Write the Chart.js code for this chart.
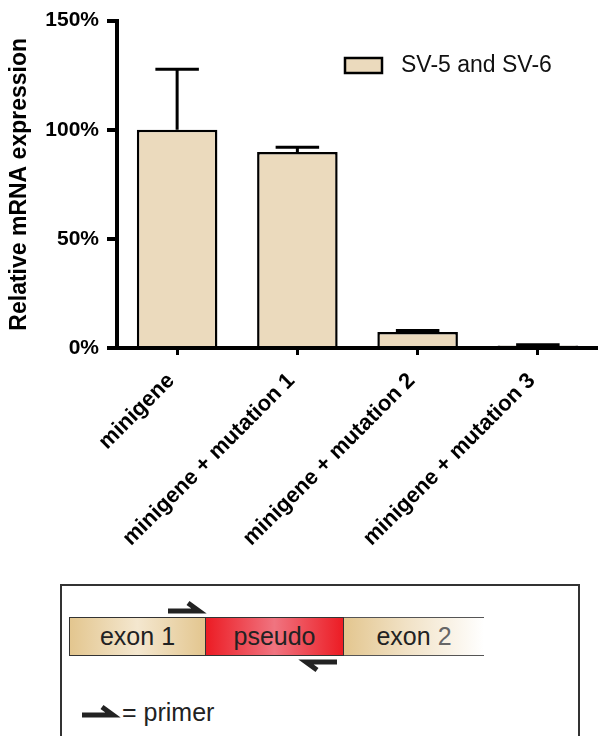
<!DOCTYPE html>
<html>
<head>
<meta charset="utf-8">
<script src="https://cdn.jsdelivr.net/npm/chart.js@4.4.1/dist/chart.umd.min.js"></script>
<style>
  html, body { margin: 0; padding: 0; background: #fff; }
  body { width: 598px; height: 736px; position: relative; overflow: hidden; font-family: 'Liberation Sans', Arial, sans-serif; }
  #wrap { position: absolute; left: 0; top: 0; width: 598px; height: 560px; }
  #diagram { position: absolute; left: 60px; top: 584px; width: 520px; height: 170px; border: 2px solid #333; box-sizing: border-box; }
  .seg { position: absolute; top: 31px; height: 39px; box-sizing: border-box; font-size: 25px; color: #222; text-align: center; line-height: 37px; }
  #ex1 { left: 7px; width: 136px; border: 1px solid #333; border-right: none;
         background: linear-gradient(to right, #e3c68f 0%, #f4e7cf 50%, #e3c68f 100%); }
  #ps { left: 143px; width: 139px; border: 1px solid #333;
        background: linear-gradient(to right, #ec1c24 0%, #f07480 50%, #ec1c24 100%); }
  #ex2 { left: 282px; width: 140px; border-top: 1px solid #555; border-bottom: 1px solid #555;
         background: linear-gradient(to right, #e3c68f 0%, #f1e2c6 45%, #ffffff 100%); }
  #ex2 span.g { color: #666; }
  #legtxt { position: absolute; left: 60px; top: 112px; font-size: 25px; color: #222; }
  svg { position: absolute; left: 0; top: 0; }
</style>
</head>
<body>
<div id="wrap"><canvas id="c" width="598" height="560"></canvas></div>
<div id="diagram">
  <div class="seg" id="ex1">exon 1</div>
  <div class="seg" id="ps">pseudo</div>
  <div class="seg" id="ex2">exon <span class="g">2</span></div>
  <svg width="520" height="170">
    <g stroke="#222" stroke-width="5" fill="none" stroke-linecap="butt">
      <path d="M106 25 L137 25 L126 17"/>
      <path d="M275 76 L244 76 L255 84"/>
      <path d="M20 129 L51 129 L40 121"/>
    </g>
  </svg>
  <div id="legtxt">= primer</div>
</div>
<script>
const categories = ['minigene', 'minigene + mutation 1', 'minigene + mutation 2', 'minigene + mutation 3'];
const expression = [100, 89.8, 7.3, 1.2];
const errorUpper = [127.7, 92.0, 8.0, 1.5];
const yTicks = [0, 50, 100, 150];
const seriesName = 'SV-5 and SV-6';

const FONT = "'Liberation Sans', Arial, sans-serif";
const barColor = 'rgb(235,218,189)';

const errorBars = {
  id: 'errorBars',
  afterDatasetsDraw(chart) {
    const ctx = chart.ctx;
    const meta = chart.getDatasetMeta(0);
    const y = chart.scales.y;
    ctx.save();
    ctx.strokeStyle = '#000';
    ctx.lineWidth = 3;
    meta.data.forEach((bar, i) => {
      const top = y.getPixelForValue(errorUpper[i]);
      const half = bar.width * 0.27;
      ctx.beginPath();
      ctx.moveTo(bar.x, bar.y);
      ctx.lineTo(bar.x, top);
      ctx.moveTo(bar.x - half, top);
      ctx.lineTo(bar.x + half, top);
      ctx.stroke();
    });
    ctx.restore();
  }
};

const legendBox = {
  id: 'legendBox',
  afterDraw(chart) {
    const ctx = chart.ctx;
    ctx.save();
    ctx.fillStyle = barColor;
    ctx.strokeStyle = '#000';
    ctx.lineWidth = 2.5;
    ctx.fillRect(345, 58, 37, 15);
    ctx.strokeRect(345, 58, 37, 15);
    ctx.fillStyle = '#111';
    ctx.font = '23px ' + FONT;
    ctx.textBaseline = 'middle';
    ctx.fillText(chart.data.datasets[0].label, 401, 66);
    ctx.restore();
  }
};

new Chart(document.getElementById('c'), {
  type: 'bar',
  data: {
    labels: categories,
    datasets: [{
      label: seriesName,
      data: expression,
      backgroundColor: barColor,
      borderColor: '#000',
      borderWidth: 2.5,
      borderSkipped: 'start',
      barPercentage: 0.67,
      categoryPercentage: 1.0
    }]
  },
  options: {
    responsive: false,
    animation: false,
    devicePixelRatio: 1,
    layout: { padding: { top: 19, left: 0, right: 0, bottom: 0 } },
    plugins: { legend: { display: false }, tooltip: { enabled: false } },
    scales: {
      x: {
        offset: true,
        afterFit(scale) { scale.height = 212; },
        grid: { display: true, drawOnChartArea: false, drawTicks: true, tickLength: 7, lineWidth: 3, color: '#000', offset: false },
        border: { display: true, width: 4, color: '#000' },
        ticks: { minRotation: 45, maxRotation: 45, autoSkip: false, padding: 13, labelOffset: -6, color: '#000',
                 font: { family: FONT, size: 22, weight: 'bold' } }
      },
      y: {
        min: 0, max: 150,
        afterFit(scale) { scale.width = 117; },
        afterBuildTicks(scale) { scale.ticks = yTicks.map(v => ({ value: v })); },
        grid: { display: true, drawOnChartArea: false, drawTicks: true, tickLength: 10, lineWidth: 4, color: '#000' },
        border: { display: true, width: 4, color: '#000' },
        ticks: { padding: 8, color: '#000', callback: v => v + '%',
                 font: { family: FONT, size: 21, weight: 'bold' } },
        title: { display: true, text: 'Relative mRNA expression', color: '#000',
                 padding: { top: 6, bottom: 0 },
                 font: { family: FONT, size: 23, weight: 'bold' } }
      }
    }
  },
  plugins: [errorBars, legendBox]
});
</script>
</body>
</html>
